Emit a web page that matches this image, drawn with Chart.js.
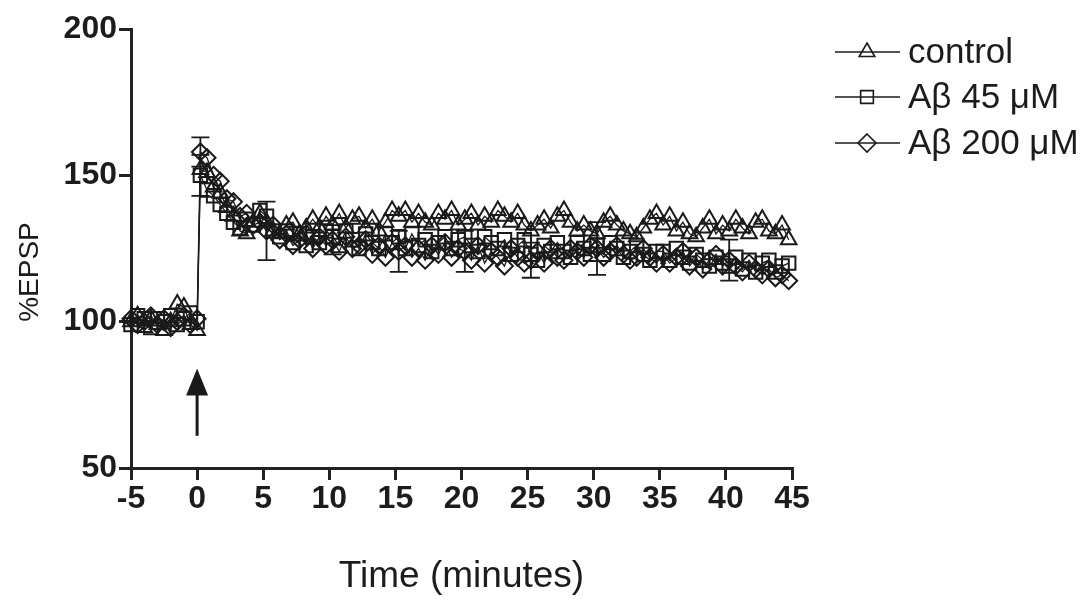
<!DOCTYPE html>
<html>
<head>
<meta charset="utf-8">
<script src="https://cdn.jsdelivr.net/npm/chart.js@4.4.1/dist/chart.umd.min.js"></script>
<style>
  html, body { margin: 0; padding: 0; background: #fff; }
  #caixa { width: 1090px; height: 605px; position: relative; }
</style>
</head>
<body>
<div id="caixa"><canvas id="grafico"></canvas></div>
<script>
// tempos (minutos) - baseline de -5 a 0, depois a cada 30 s
var tempos = [
  -5, -4.5, -4, -3.5, -3, -2.5, -2, -1.5, -1, -0.5, 0,
  0.25, 0.75, 1.25, 1.75, 2.25, 2.75, 3.25, 3.75, 4.25, 4.75,
  5.25, 5.75, 6.25, 6.75, 7.25, 7.75, 8.25, 8.75, 9.25, 9.75,
  10.25, 10.75, 11.25, 11.75, 12.25, 12.75, 13.25, 13.75, 14.25, 14.75,
  15.25, 15.75, 16.25, 16.75, 17.25, 17.75, 18.25, 18.75, 19.25, 19.75,
  20.25, 20.75, 21.25, 21.75, 22.25, 22.75, 23.25, 23.75, 24.25, 24.75,
  25.25, 25.75, 26.25, 26.75, 27.25, 27.75, 28.25, 28.75, 29.25, 29.75,
  30.25, 30.75, 31.25, 31.75, 32.25, 32.75, 33.25, 33.75, 34.25, 34.75,
  35.25, 35.75, 36.25, 36.75, 37.25, 37.75, 38.25, 38.75, 39.25, 39.75,
  40.25, 40.75, 41.25, 41.75, 42.25, 42.75, 43.25, 43.75, 44.25, 44.75
];

var controle = [
  100, 102, 98, 101, 99, 97, 100, 106, 105, 99, 97,
  152, 151, 146, 144, 139, 136, 131, 130, 134, 137,
  134, 131, 130, 133, 134, 130, 132, 135, 132, 136,
  133, 137, 132, 135, 136, 132, 135, 131, 134, 138,
  136, 138, 134, 137, 134, 133, 137, 135, 138, 133,
  135, 137, 133, 136, 134, 138, 136, 134, 137, 133,
  131, 133, 135, 132, 136, 138, 134, 131, 133, 131,
  130, 134, 136, 133, 131, 130, 129, 132, 135, 137,
  133, 136, 131, 134, 130, 129, 132, 135, 130, 133,
  131, 135, 132, 130, 134, 135, 131, 130, 133, 128
];

var ab45 = [
  99, 102, 101, 98, 101, 100, 102, 99, 101, 103, 100,
  150, 145, 143, 140, 137, 134, 132, 135, 133, 138,
  136, 131, 129, 131, 127, 130, 126, 129, 127, 131,
  129, 126, 131, 128, 125, 130, 127, 125, 130, 127,
  129, 125, 130, 126, 128, 124, 127, 129, 125, 128,
  129, 126, 124, 129, 127, 125, 128, 123, 126, 128,
  123, 121, 126, 124, 127, 124, 122, 127, 125, 123,
  126, 123, 127, 125, 122, 124, 126, 123, 121, 124,
  124, 121, 125, 122, 120, 123, 121, 119, 122, 120,
  119, 122, 118, 121, 117, 120, 121, 117, 119, 120
];

var ab200 = [
  101, 99, 100, 102, 99, 101, 98, 100, 102, 99, 101,
  158, 156, 150, 148, 142, 141, 136, 137, 133, 134,
  131, 133, 128, 130, 126, 128, 130, 125, 129, 126,
  128, 124, 129, 125, 126, 128, 123, 126, 122, 127,
  124, 126, 122, 125, 121, 126, 123, 127, 122, 125,
  124, 121, 126, 120, 124, 122, 119, 125, 122, 120,
  121, 124, 120, 125, 122, 121, 125, 124, 122, 126,
  125, 122, 124, 126, 123, 121, 122, 125, 122, 120,
  123, 120, 122, 124, 119, 122, 118, 121, 123, 119,
  121, 119, 117, 120, 118, 116, 118, 115, 116, 114
];

// barras de erro (SEM) so em alguns pontos
var erroTempos45 = [0.25];
var erro45 = [7];
var erroTempos200 = [0.25, 5.25, 10.25, 15.25, 20.25, 25.25, 30.25, 40.25];
var erro200 = [5, 10, 5, 7, 7, 6, 9, 7];

var xTicks = [-5, 0, 5, 10, 15, 20, 25, 30, 35, 40, 45];
var yTicks = [50, 100, 150, 200];

// seta do estimulo (em unidades do grafico)
var setaX = 0, setaBase = 61, setaPonta = 84;

var corTxt = '#1c1c1c';
var corLinha = '#1a1a1a';
var fonte = "Arial, 'Liberation Sans', sans-serif";

function pontos(serie) {
  return serie.map(function (v, i) { return { x: tempos[i], y: v }; });
}

function marca(ctx, estilo, x, y, r) {
  ctx.beginPath();
  if (estilo === 'triangle') {
    ctx.moveTo(x, y - r);
    ctx.lineTo(x + r * 0.866, y + r * 0.5);
    ctx.lineTo(x - r * 0.866, y + r * 0.5);
    ctx.closePath();
  } else if (estilo === 'rect') {
    ctx.rect(x - r * 0.707, y - r * 0.707, r * 1.414, r * 1.414);
  } else {
    ctx.moveTo(x, y - r);
    ctx.lineTo(x + r, y);
    ctx.lineTo(x, y + r);
    ctx.lineTo(x - r, y);
    ctx.closePath();
  }
  ctx.stroke();
}

var pluginErro = {
  id: 'erros',
  afterDatasetsDraw: function (chart) {
    var ctx = chart.ctx, sx = chart.scales.x, sy = chart.scales.y;
    var grupos = [[ab45, erroTempos45, erro45], [ab200, erroTempos200, erro200]];
    ctx.save();
    ctx.strokeStyle = corLinha;
    ctx.lineWidth = 1.8;
    grupos.forEach(function (g) {
      g[1].forEach(function (t, k) {
        var i = tempos.indexOf(t);
        var px = sx.getPixelForValue(t);
        var top = sy.getPixelForValue(g[0][i] + g[2][k]);
        var bot = sy.getPixelForValue(g[0][i] - g[2][k]);
        ctx.beginPath();
        ctx.moveTo(px, top); ctx.lineTo(px, bot);
        ctx.moveTo(px - 9, top); ctx.lineTo(px + 9, top);
        ctx.moveTo(px - 9, bot); ctx.lineTo(px + 9, bot);
        ctx.stroke();
      });
    });
    ctx.restore();
  }
};

var pluginSeta = {
  id: 'seta',
  afterDraw: function (chart) {
    var ctx = chart.ctx, sx = chart.scales.x, sy = chart.scales.y;
    var px = sx.getPixelForValue(setaX);
    var y0 = sy.getPixelForValue(setaBase);
    var y1 = sy.getPixelForValue(setaPonta);
    ctx.save();
    ctx.strokeStyle = corLinha;
    ctx.fillStyle = corLinha;
    ctx.lineWidth = 3;
    ctx.beginPath();
    ctx.moveTo(px, y0); ctx.lineTo(px, y1 + 20);
    ctx.stroke();
    ctx.beginPath();
    ctx.moveTo(px, y1);
    ctx.lineTo(px + 11, y1 + 27);
    ctx.lineTo(px - 11, y1 + 27);
    ctx.closePath();
    ctx.fill();
    ctx.restore();
  }
};

// titulo do eixo Y (fica um pouco abaixo do centro no original)
var pluginTituloY = {
  id: 'tituloY',
  afterDraw: function (chart) {
    var ctx = chart.ctx;
    ctx.save();
    ctx.translate(30, 272);
    ctx.rotate(-Math.PI / 2);
    ctx.font = '28px ' + fonte;
    ctx.fillStyle = corTxt;
    ctx.textAlign = 'center';
    ctx.textBaseline = 'middle';
    ctx.fillText('%EPSP', 0, 0);
    ctx.restore();
  }
};

var pluginLegenda = {
  id: 'legenda',
  afterDraw: function (chart) {
    var ctx = chart.ctx;
    var linhasY = [52, 97, 143];
    ctx.save();
    ctx.font = '35px ' + fonte;
    ctx.textBaseline = 'middle';
    chart.data.datasets.forEach(function (ds, i) {
      var y = linhasY[i];
      ctx.strokeStyle = corLinha;
      ctx.lineWidth = 1.6;
      ctx.beginPath();
      ctx.moveTo(835, y); ctx.lineTo(900, y);
      ctx.stroke();
      marca(ctx, ds.pointStyle, 867, y, 9);
      ctx.fillStyle = corTxt;
      ctx.fillText(ds.label, 908, y + 1);
    });
    ctx.restore();
  }
};

var ctx = document.getElementById('grafico');

var grafico = new Chart(ctx, {
  type: 'line',
  data: {
    datasets: [{
      label: 'control',
      data: pontos(controle),
      pointStyle: 'triangle',
      pointRadius: 9,
      borderColor: corLinha,
      backgroundColor: 'rgba(0,0,0,0)'
    }, {
      label: 'A\u03b2 45 \u03bcM',
      data: pontos(ab45),
      pointStyle: 'rect',
      pointRadius: 9.5,
      borderColor: corLinha,
      backgroundColor: 'rgba(0,0,0,0)'
    }, {
      label: 'A\u03b2 200 \u03bcM',
      data: pontos(ab200),
      pointStyle: 'rectRot',
      pointRadius: 8.5,
      borderColor: corLinha,
      backgroundColor: 'rgba(0,0,0,0)'
    }]
  },
  options: {
    responsive: true,
    maintainAspectRatio: false,
    animation: false,
    devicePixelRatio: 1,
    datasets: {
      line: {
        borderWidth: 1.3,
        pointBorderColor: corLinha,
        pointBackgroundColor: 'rgba(0,0,0,0)',
        pointBorderWidth: 2,
        tension: 0,
        clip: false
      }
    },
    layout: { padding: { top: 29, right: 298, left: 0, bottom: 0 } },
    plugins: {
      legend: { display: false },
      tooltip: { enabled: false }
    },
    scales: {
      x: {
        type: 'linear',
        min: -5,
        max: 45,
        afterBuildTicks: function (s) { s.ticks = xTicks.map(function (v) { return { value: v }; }); },
        afterFit: function (s) { s.height = 137; },
        ticks: { color: corTxt, font: { family: fonte, size: 32, weight: 'bold' }, padding: 0, maxRotation: 0 },
        grid: { drawOnChartArea: false, drawTicks: true, tickLength: 12, lineWidth: 3, color: '#222' },
        border: { display: true, width: 3, color: '#222' },
        title: { display: true, text: 'Time (minutes)', color: corTxt, font: { family: fonte, size: 37 }, padding: { top: 0, bottom: 6 } }
      },
      y: {
        min: 50,
        max: 200,
        afterBuildTicks: function (s) { s.ticks = yTicks.map(function (v) { return { value: v }; }); },
        afterFit: function (s) { s.width = 131; },
        ticks: { color: corTxt, font: { family: fonte, size: 32, weight: 'bold' }, padding: 2 },
        grid: { drawOnChartArea: false, drawTicks: true, tickLength: 12, lineWidth: 3, color: '#222' },
        border: { display: true, width: 3, color: '#222' }
      }
    }
  },
  plugins: [pluginErro, pluginSeta, pluginTituloY, pluginLegenda]
});
</script>
</body>
</html>
